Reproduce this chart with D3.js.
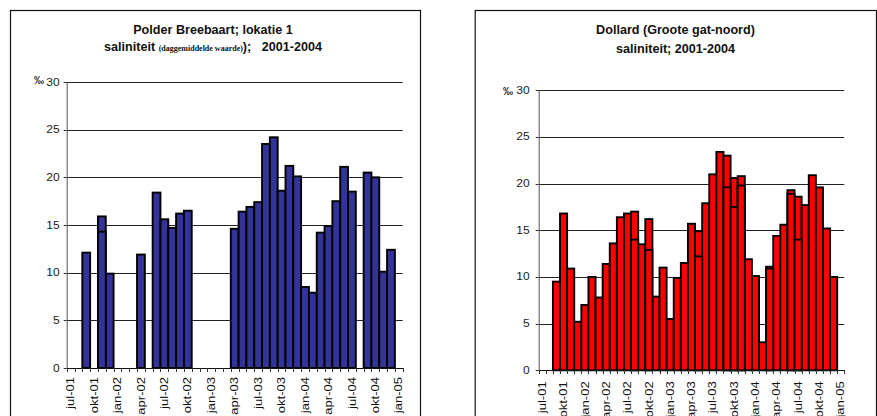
<!DOCTYPE html>
<html>
<head>
<meta charset="utf-8">
<script src="https://cdn.jsdelivr.net/npm/d3@7"></script>
<style>
  body { margin: 0; background: #fff; }
  svg { display: block; font-family: Arial, "Liberation Sans", sans-serif; }
</style>
</head>
<body>
<svg id="chart" width="877" height="416"></svg>
<script>
// maanden op de x-as (jul-01 .. jan-05)
const months = [
  'jul-01','aug-01','sep-01','okt-01','nov-01','dec-01',
  'jan-02','feb-02','mrt-02','apr-02','mei-02','jun-02','jul-02','aug-02','sep-02','okt-02','nov-02','dec-02',
  'jan-03','feb-03','mrt-03','apr-03','mei-03','jun-03','jul-03','aug-03','sep-03','okt-03','nov-03','dec-03',
  'jan-04','feb-04','mrt-04','apr-04','mei-04','jun-04','jul-04','aug-04','sep-04','okt-04','nov-04','dec-04',
  'jan-05'
];
const xTickLabels = ['jul-01','okt-01','jan-02','apr-02','jul-02','okt-02','jan-03','apr-03',
                     'jul-03','okt-03','jan-04','apr-04','jul-04','okt-04','jan-05'];
const yTicks = [0, 5, 10, 15, 20, 25, 30];

// Polder Breebaart, lokatie 1 (‰)
const breebaart = [
  null, null, 12.1, null, 15.9, 9.9,
  null, null, null, 11.9, null, 18.4, 15.6, 14.7, 16.2, 16.5, null, null,
  null, null, null, 14.6, 16.4, 16.9, 17.4, 23.5, 24.2, 18.6, 21.2, 20.1,
  8.5, 7.9, 14.2, 14.9, 17.5, 21.1, 18.5, null, 20.5, 20.0, 10.1, 12.4,
  null
];
// tweede waarde in dezelfde maand (overlappende staaf)
const breebaart2 = [
  null, null, null, null, 14.3, null,
  null, null, null, null, null, null, null, null, null, null, null, null,
  null, null, null, null, null, null, null, null, null, null, null, null,
  null, null, null, null, null, null, null, null, null, null, null, null,
  null
];

// Dollard, Groote gat-noord (‰)
const dollard = [
  null, null, 9.5, 16.8, 10.9, 5.2,
  7.0, 10.0, 7.8, 11.4, 13.6, 16.4, 16.8, 17.0, 13.5, 16.2, 7.9, 11.0,
  5.5, 9.9, 11.5, 15.7, 14.9, 17.9, 21.0, 23.4, 23.0, 20.6, 20.8, 11.9,
  10.1, 3.0, 11.1, 14.4, 15.6, 19.3, 18.6, 17.7, 20.9, 19.6, 15.2, 10.0,
  null
];
const dollard2 = [
  null, null, null, null, null, null,
  null, null, null, null, null, null, null, 14.0, null, 12.9, null, null,
  null, null, null, null, 12.2, null, null, null, 19.6, 17.5, 19.8, null,
  null, null, 10.9, null, null, 18.9, 14.0, null, null, null, null, null,
  null
];

const svg = d3.select('#chart');

const drawChart = (opt) => {
  const g = svg.append('g');

  // kader
  g.append('rect')
    .attr('x', opt.frame[0] + 0.5)
    .attr('y', 10.5)
    .attr('width', opt.frame[1] - opt.frame[0])
    .attr('height', 440)
    .attr('fill', '#fff')
    .attr('stroke', '#111')
    .attr('stroke-width', 1.2);

  const x = d3.scaleBand(months, [opt.left, opt.right]).padding(0);
  const y = d3.scaleLinear([0, 30], [opt.bottom, opt.top]);

  // rasterlijnen
  g.append('g')
    .selectAll('line')
    .data(yTicks.filter(d => d > 0))
    .join('line')
      .attr('x1', opt.left)
      .attr('x2', opt.right)
      .attr('y1', d => Math.round(y(d)) + 0.5)
      .attr('y2', d => Math.round(y(d)) + 0.5)
      .attr('stroke', '#222')
      .attr('stroke-width', 1);

  // staven
  const bars = (vals) => {
    g.append('g')
      .selectAll('rect')
      .data(months.map((m, i) => ({m, v: vals[i]})).filter(d => d.v != null))
      .join('rect')
        .attr('x', d => x(d.m))
        .attr('y', d => y(d.v))
        .attr('width', x.bandwidth())
        .attr('height', d => y(0) - y(d.v))
        .attr('fill', opt.color)
        .attr('stroke', '#000')
        .attr('stroke-width', 1.9);
  };
  bars(opt.values);
  bars(opt.values2);

  // y-as
  const yAxis = g.append('g');
  yAxis.append('line')
    .attr('x1', opt.left + 0.5).attr('x2', opt.left + 0.5)
    .attr('y1', y(0)).attr('y2', y(30))
    .attr('stroke', '#555');
  yAxis.selectAll('line.tick')
    .data(yTicks)
    .join('line')
      .attr('class', 'tick')
      .attr('x1', opt.left - 3).attr('x2', opt.left)
      .attr('y1', d => Math.round(y(d)) + 0.5)
      .attr('y2', d => Math.round(y(d)) + 0.5)
      .attr('stroke', '#333');
  yAxis.selectAll('text')
    .data(yTicks)
    .join('text')
      .attr('transform', d => `translate(${opt.left - opt.yLabelGap},${y(d) + 3.5}) scale(1.2,1)`)
      .attr('text-anchor', 'end')
      .attr('font-size', 10)
      .attr('fill', '#1a1a1a')
      .text(d => d);

  g.append('text')
    .attr('x', opt.permille[0])
    .attr('y', opt.permille[1])
    .attr('text-anchor', 'end')
    .attr('font-size', 10)
    .attr('font-weight', 'bold')
    .attr('fill', '#222')
    .text('‰');

  // x-as
  const xAxis = g.append('g');
  xAxis.append('line')
    .attr('x1', opt.left).attr('x2', opt.right + 0.5)
    .attr('y1', Math.round(y(0)) + 0.5).attr('y2', Math.round(y(0)) + 0.5)
    .attr('stroke', '#111');
  const bounds = months.map(m => x(m)).concat([opt.right]);
  xAxis.selectAll('line.tick')
    .data(bounds)
    .join('line')
      .attr('class', 'tick')
      .attr('x1', d => Math.round(d) + 0.5).attr('x2', d => Math.round(d) + 0.5)
      .attr('y1', Math.round(y(0))).attr('y2', Math.round(y(0)) + 4)
      .attr('stroke', '#333');
  xAxis.selectAll('text')
    .data(xTickLabels)
    .join('text')
      .attr('transform', d => `translate(${x(d) + x.bandwidth() / 2},${y(0) + opt.labelGap}) rotate(-90) scale(1.28,1)`)
      .attr('text-anchor', 'end')
      .attr('dy', '0.36em')
      .attr('font-size', 10.2)
      .attr('fill', '#111')
      .text(d => d);

  // titel
  const title = g.append('text')
    .attr('text-anchor', 'middle')
    .attr('font-weight', 'bold')
    .attr('font-size', 12.6)
    .attr('fill', '#111');
  title.append('tspan')
    .attr('x', opt.titleX).attr('y', 34)
    .text(opt.title1);
  const sub = title.append('tspan')
    .attr('x', opt.titleX).attr('y', opt.title2Y)
    .style('white-space', 'pre');
  opt.title2.forEach(p => {
    const t = sub.append('tspan').text(p.t);
    if (p.small) {
      t.attr('font-size', 8).attr('font-family', '"Liberation Serif", "DejaVu Serif", serif');
    }
  });
};

drawChart({
  frame: [10, 420],
  left: 66.7, right: 402.7, top: 82, bottom: 368,
  color: '#333399',
  values: breebaart, values2: breebaart2,
  permille: [44, 84],
  yLabelGap: 7,
  labelGap: 9,
  titleX: 213,
  title1: 'Polder Breebaart; lokatie 1',
  title2Y: 51,
  title2: [{t: 'saliniteit '}, {t: '(daggemiddelde waarde)', small: true}, {t: ');   2001-2004'}]
});

drawChart({
  frame: [474.7, 876],
  left: 538.7, right: 844.3, top: 90.3, bottom: 370.3,
  color: '#ff0000',
  values: dollard, values2: dollard2,
  permille: [513, 95],
  yLabelGap: 9,
  labelGap: 11,
  titleX: 675.5,
  title1: 'Dollard (Groote gat-noord)',
  title2Y: 52.5,
  title2: [{t: 'saliniteit; 2001-2004'}]
});
</script>
</body>
</html>
